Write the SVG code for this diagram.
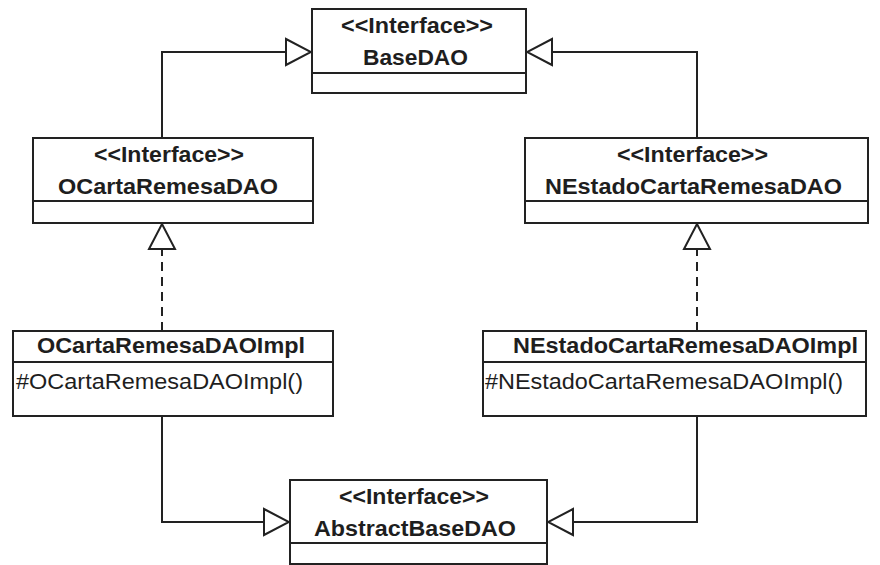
<svg xmlns="http://www.w3.org/2000/svg" width="880" height="565" viewBox="0 0 880 565">
  <style>
    .box { fill: #ffffff; stroke: #222222; stroke-width: 2; }
    .div { stroke: #222222; stroke-width: 2; }
    .t { font-family: "Liberation Sans", Arial, sans-serif; font-size: 21.5px; fill: #1e1e1e; }
    .b { font-weight: bold; text-anchor: middle; }
    .m { font-weight: normal; text-anchor: start; }
    .edge { fill: none; stroke: #222222; stroke-width: 2; }
    .dash { stroke-dasharray: 9 6; }
  </style>
  <defs>
    <marker id="gen" viewBox="0 0 27 30" refX="26" refY="15" markerWidth="27" markerHeight="30" markerUnits="userSpaceOnUse" orient="auto">
      <path d="M1,2 L26,15 L1,28 Z" fill="#ffffff" stroke="#222222" stroke-width="2" stroke-linejoin="miter"/>
    </marker>
  </defs>
  <rect width="880" height="565" fill="#ffffff"/>

  <g id="connectors">
    <path class="edge" d="M162,138 V52 H311" marker-end="url(#gen)"/>
    <path class="edge" d="M697,138 V52 H527" marker-end="url(#gen)"/>
    <path class="edge dash" d="M162,331 V248"/>
    <path class="edge" d="M162,249 V224" marker-end="url(#gen)"/>
    <path class="edge dash" d="M697,331 V248"/>
    <path class="edge" d="M697,249 V224" marker-end="url(#gen)"/>
    <path class="edge" d="M162,416 V522 H289" marker-end="url(#gen)"/>
    <path class="edge" d="M697,416 V522 H548" marker-end="url(#gen)"/>
  </g>

  <g id="BaseDAO">
    <rect class="box" x="312" y="9" width="214" height="84"/>
    <line class="div" x1="312" y1="73" x2="526" y2="73"/>
    <text class="t b" x="417" y="33" textLength="152" lengthAdjust="spacingAndGlyphs">&lt;&lt;Interface&gt;&gt;</text>
    <text class="t b" x="415.5" y="65" textLength="105" lengthAdjust="spacingAndGlyphs">BaseDAO</text>
  </g>

  <g id="OCartaRemesaDAO">
    <rect class="box" x="33" y="138" width="280" height="85"/>
    <line class="div" x1="33" y1="201" x2="313" y2="201"/>
    <text class="t b" x="169" y="162" textLength="150" lengthAdjust="spacingAndGlyphs">&lt;&lt;Interface&gt;&gt;</text>
    <text class="t b" x="168" y="194" textLength="220" lengthAdjust="spacingAndGlyphs">OCartaRemesaDAO</text>
  </g>

  <g id="NEstadoCartaRemesaDAO">
    <rect class="box" x="525" y="138" width="343" height="85"/>
    <line class="div" x1="525" y1="201" x2="868" y2="201"/>
    <text class="t b" x="692.5" y="162" textLength="151" lengthAdjust="spacingAndGlyphs">&lt;&lt;Interface&gt;&gt;</text>
    <text class="t b" x="693.5" y="194" textLength="297" lengthAdjust="spacingAndGlyphs">NEstadoCartaRemesaDAO</text>
  </g>

  <g id="OCartaRemesaDAOImpl">
    <rect class="box" x="13" y="331" width="320" height="85"/>
    <line class="div" x1="13" y1="362" x2="333" y2="362"/>
    <text class="t b" x="171" y="353" textLength="268" lengthAdjust="spacingAndGlyphs">OCartaRemesaDAOImpl</text>
    <text class="t m" x="16" y="389" textLength="287" lengthAdjust="spacingAndGlyphs">#OCartaRemesaDAOImpl()</text>
  </g>

  <g id="NEstadoCartaRemesaDAOImpl">
    <rect class="box" x="483" y="331" width="383" height="85"/>
    <line class="div" x1="483" y1="362" x2="866" y2="362"/>
    <text class="t b" x="685.5" y="353" textLength="345" lengthAdjust="spacingAndGlyphs">NEstadoCartaRemesaDAOImpl</text>
    <text class="t m" x="485" y="389" textLength="358" lengthAdjust="spacingAndGlyphs">#NEstadoCartaRemesaDAOImpl()</text>
  </g>

  <g id="AbstractBaseDAO">
    <rect class="box" x="290" y="480" width="257" height="84"/>
    <line class="div" x1="290" y1="543" x2="547" y2="543"/>
    <text class="t b" x="414" y="504" textLength="150" lengthAdjust="spacingAndGlyphs">&lt;&lt;Interface&gt;&gt;</text>
    <text class="t b" x="415" y="536" textLength="202" lengthAdjust="spacingAndGlyphs">AbstractBaseDAO</text>
  </g>
</svg>
